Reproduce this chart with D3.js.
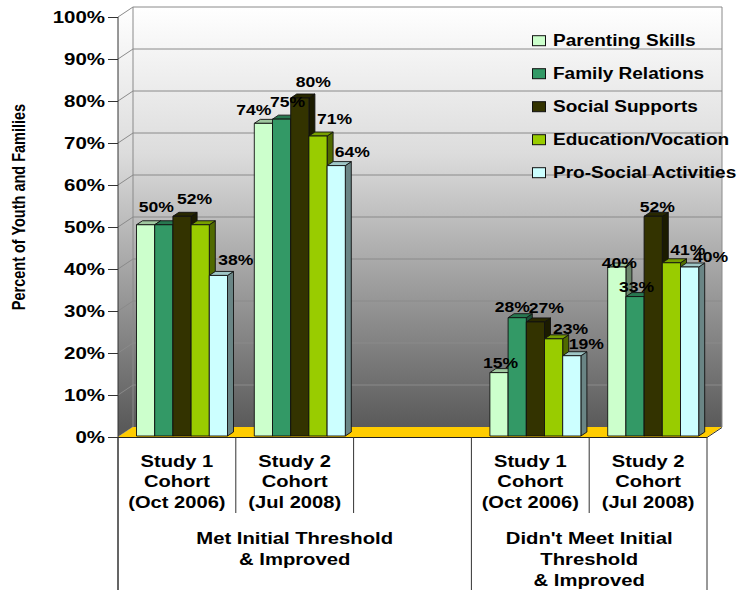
<!DOCTYPE html>
<html>
<head>
<meta charset="utf-8">
<script src="https://cdn.jsdelivr.net/npm/d3@7"></script>
<style>
  html, body { margin: 0; padding: 0; background: #fff; }
  svg { display: block; font-family: "Liberation Sans", Arial, Helvetica, sans-serif; font-weight: bold; }
</style>
</head>
<body>
<svg id="chart" width="739" height="590"></svg>
<script>
// ---- data -------------------------------------------------------------
const categories = [
  ["Study 1", "Cohort", "(Oct 2006)"],
  ["Study 2", "Cohort", "(Jul 2008)"],
  [],
  ["Study 1", "Cohort", "(Oct 2006)"],
  ["Study 2", "Cohort", "(Jul 2008)"]
];
const groupLabels = [
  ["Met Initial Threshold", "& Improved"],
  ["Didn't Meet Initial", "Threshold", "& Improved"]
];
const groupSpans = [[0, 2], [3, 4]];   // first and last category of each group

const seriesNames = ["Parenting Skills", "Family Relations", "Social Supports",
                     "Education/Vocation", "Pro-Social Activities"];
const parentingSkills     = [50, 74, null, 15, 40];
const familyRelations     = [50, 75, null, 28, 33];
const socialSupports      = [52, 80, null, 27, 52];
const educationVocation   = [50, 71, null, 23, 41];
const proSocialActivities = [38, 64, null, 19, 40];
const seriesValues = [parentingSkills, familyRelations, socialSupports,
                      educationVocation, proSocialActivities];

const yTicks = [0, 10, 20, 30, 40, 50, 60, 70, 80, 90, 100];

// ---- styling ----------------------------------------------------------
const colors = ["#CCFFCC", "#339966", "#333300", "#99CC00", "#CCFFFF"];
// nudges of each value label from the top-front centre of its bar (null = not shown)
const labelNudges = [
  [null,        [-9.5, -8],   null, [1.5, -4.5], [2.5, 1]],
  [[-7.5, -13], [6, -12],     null, [-5, -6],    [1.5, -4.5]],
  [[12.5, -12], [13.5, -11],  null, [11, -9],    [4, -4]],
  [null,        [16.5, -12],  null, [17, -5],    [16.5, -8]],
  [[17.5, -10.5], [16, -8.5], null, [14.5, -6.5], [21, -5]]
];
const SX = 1.22;             // horizontal stretch of the lettering
const depth = { dx: 15, dy: -10 };   // wall depth
const barDepth = { dx: 6, dy: -4 };

// ---- layout -----------------------------------------------------------
const svg = d3.select("#chart");
const left = 118, right = 707, yTop = 17, yBase = 437;

const y = d3.scaleLinear().domain([0, 100]).range([yBase, yTop]);
const yBar = d3.scaleLinear().domain([0, 100]).range([436, 13.5]);
const x0 = d3.scaleBand().domain(d3.range(categories.length)).range([left, right]).padding(0);
const x1 = d3.scaleBand().domain(d3.range(seriesNames.length)).range([0, 91]).padding(0);
const barInset = 18.5;

function sText(parent, x, yy, str, size, anchor) {
  const g = parent.append("g").attr("transform", `translate(${x},${yy}) scale(${SX},1)`);
  g.append("text").attr("text-anchor", anchor || "middle")
    .style("font-size", size + "px").attr("fill", "#000").text(str);
  return g;
}

// wall gradient
const defs = svg.append("defs");
const grad = defs.append("linearGradient").attr("id", "wallGrad")
  .attr("gradientUnits", "userSpaceOnUse")
  .attr("x1", 0).attr("x2", 0).attr("y1", yTop + depth.dy).attr("y2", yBase + depth.dy);
grad.append("stop").attr("offset", 0).attr("stop-color", "#ffffff");
grad.append("stop").attr("offset", 0.35).attr("stop-color", "#dcdcdc");
grad.append("stop").attr("offset", 1).attr("stop-color", "#5a5a5a");

const bx = left + depth.dx, by0 = yTop + depth.dy, by1 = yBase + depth.dy;
const bRight = right + depth.dx;

// side wall
svg.append("polygon")
  .attr("points", [[left, yTop], [bx, by0], [bx, by1], [left, yBase]].join(" "))
  .attr("fill", "url(#wallGrad)");
// back wall
svg.append("rect").attr("x", bx).attr("y", by0)
  .attr("width", bRight - bx).attr("height", by1 - by0)
  .attr("fill", "url(#wallGrad)");

// gridlines on back and side walls
const grid = svg.append("g").attr("stroke", "#8a8a8a").attr("stroke-width", 1).attr("fill", "none");
yTicks.forEach(t => {
  const yy = y(t) + depth.dy;
  if (t > 0) grid.append("line").attr("x1", bx).attr("x2", bRight).attr("y1", yy).attr("y2", yy);
  grid.append("line").attr("x1", left).attr("y1", y(t)).attr("x2", bx).attr("y2", yy);
});
grid.append("line").attr("x1", bx).attr("x2", bx).attr("y1", by0).attr("y2", by1);
grid.append("line").attr("x1", bRight).attr("x2", bRight).attr("y1", by0).attr("y2", by1);

// floor
svg.append("polygon")
  .attr("points", [[left, yBase], [right, yBase], [bRight, by1], [bx, by1]].join(" "))
  .attr("fill", "#FFCC00");
svg.append("line").attr("x1", right).attr("y1", yBase + 0.5).attr("x2", bRight).attr("y2", by1 + 0.5)
  .attr("stroke", "#333").attr("stroke-width", 1);

// bars
const shade = (c, k) => { const r = d3.rgb(c); return d3.rgb(r.r * k, r.g * k, r.b * k).formatHex(); };
const barsG = svg.append("g").attr("stroke", "#111").attr("stroke-width", 0.9).attr("stroke-linejoin", "round");
categories.forEach((cat, ci) => {
  seriesValues.forEach((vals, si) => {
    const v = vals[ci];
    if (v == null) return;
    const xa = x0(ci) + barInset + x1(si), w = x1.bandwidth();
    const xb = xa + w, yt = yBar(v), yb = yBar(0);
    const { dx, dy } = barDepth;
    barsG.append("polygon")
      .attr("points", [[xb, yt], [xb + dx, yt + dy], [xb + dx, yb + dy], [xb, yb]].join(" "))
      .attr("fill", shade(colors[si], 0.52));
    barsG.append("polygon")
      .attr("points", [[xa, yt], [xa + dx, yt + dy], [xb + dx, yt + dy], [xb, yt]].join(" "))
      .attr("fill", shade(colors[si], 0.78));
    barsG.append("rect").attr("x", xa).attr("y", yt).attr("width", w).attr("height", yb - yt)
      .attr("fill", colors[si]);
  });
});

// value labels
const labelsG = svg.append("g");
categories.forEach((cat, ci) => {
  seriesValues.forEach((vals, si) => {
    const v = vals[ci], n = labelNudges[si][ci];
    if (v == null || !n) return;
    const cx = x0(ci) + barInset + x1(si) + x1.bandwidth() / 2;
    sText(labelsG, cx + n[0], yBar(v) + n[1], v + "%", 14.4, "middle");
  });
});

// value axis
const axis = svg.append("g").attr("transform", `translate(${left},0)`)
  .call(d3.axisLeft(y).tickValues(yTicks).tickFormat(d => d + "%").tickSize(10).tickPadding(3));
axis.select(".domain").remove();
axis.selectAll(".tick line").attr("stroke", "#333");
axis.selectAll(".tick text")
  .attr("x", -13 / SX)
  .attr("transform", `scale(${SX},1)`)
  .attr("fill", "#000")
  .style("font-size", "16.8px")
  .style("font-family", "inherit")
  .style("font-weight", "bold");

// front vertical axis line
svg.append("line").attr("x1", left).attr("x2", left).attr("y1", yTop).attr("y2", 590)
  .attr("stroke", "#333").attr("stroke-width", 1);

// category axis line
svg.append("line").attr("x1", left).attr("x2", right).attr("y1", yBase + 0.5).attr("y2", yBase + 0.5)
  .attr("stroke", "#222").attr("stroke-width", 1.2);

// category dividers
const longEdges = new Set();
groupSpans.forEach(([a, b]) => { longEdges.add(a); longEdges.add(b + 1); });
d3.range(categories.length + 1).forEach(i => {
  const xx = i < categories.length ? x0(i) : right;
  svg.append("line").attr("x1", xx).attr("x2", xx).attr("y1", yBase)
    .attr("y2", longEdges.has(i) ? 590 : 513)
    .attr("stroke", "#333").attr("stroke-width", 1);
});

// category labels
categories.forEach((lines, ci) => {
  const cx = x0(ci) + x0.bandwidth() / 2;
  lines.forEach((ln, li) => sText(svg, cx, 466.7 + li * 20.7, ln, 16.5, "middle"));
});

// group labels
groupLabels.forEach((lines, gi) => {
  const [a, b] = groupSpans[gi];
  const cx = (x0(a) + x0(b) + x0.bandwidth()) / 2;
  lines.forEach((ln, li) => sText(svg, cx, 544.3 + li * 20.7, ln, 16.6, "middle"));
});

// value axis title
svg.append("g").attr("transform", `translate(25,207) rotate(-90) scale(1,${SX})`)
  .append("text").attr("text-anchor", "middle").style("font-size", "14.5px")
  .attr("fill", "#000").text("Percent of Youth and Families");

// legend
const legend = svg.append("g");
seriesNames.forEach((name, i) => {
  const ly = 45.7 + i * 33;
  legend.append("rect").attr("x", 532.5).attr("y", ly - 10).attr("width", 13).attr("height", 10)
    .attr("fill", colors[i]).attr("stroke", "#111").attr("stroke-width", 1);
  sText(legend, 553, ly, name, 15.6, "start");
});
</script>
</body>
</html>
